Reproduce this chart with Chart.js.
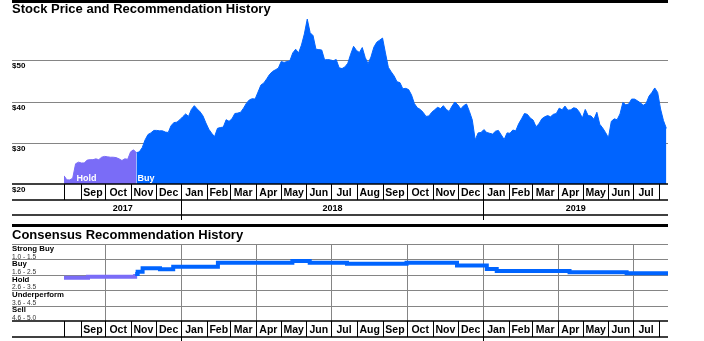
<!DOCTYPE html>
<html>
<head>
<meta charset="utf-8">
<script src="https://cdn.jsdelivr.net/npm/chart.js@4.4.0/dist/chart.umd.min.js"></script>
<style>
  html, body { margin: 0; padding: 0; background: #fff; }
  #wrap { position: relative; width: 704px; height: 341px; overflow: hidden; }
  .box { position: absolute; left: 0; width: 704px; }
  #priceBox { top: 0; height: 220px; }
  #recBox { top: 220px; height: 121px; }
</style>
</head>
<body>
<div id="wrap">
  <div class="box" id="priceBox"><canvas id="priceChart"></canvas></div>
  <div class="box" id="recBox"><canvas id="recChart"></canvas></div>
</div>
<script>
// closing price, sampled twice a week from startDate
const startDate = '2017-08-12';
const endDate = '2019-08-12';
const stepDays = 3.5;
const closePrices = [
  22.0, 21.0, 21.0, 21.4, 24.9, 25.3, 25.1, 25.1, 25.8, 25.9,
  25.9, 26.1, 25.9, 26.5, 26.7, 26.6, 26.5, 26.5, 26.4, 26.1,
  25.7, 26.1, 26.0, 27.8, 28.3, 27.6, 27.8, 28.8, 30.7, 32.0,
  32.4, 33.0, 33.0, 32.9, 32.9, 32.6, 32.5, 34.2, 34.9, 35.0,
  35.6, 36.3, 37.0, 36.4, 38.1, 39.0, 38.2, 37.5, 36.5, 34.8,
  33.3, 32.3, 31.5, 33.5, 33.7, 33.8, 35.6, 35.2, 35.8, 37.1,
  37.2, 37.4, 38.4, 39.6, 40.4, 40.7, 40.6, 42.3, 44.0, 44.5,
  45.5, 46.6, 47.3, 47.7, 48.1, 49.7, 49.5, 49.7, 49.9, 51.8,
  52.7, 51.8, 53.7, 56.4, 60.0, 56.7, 56.0, 52.7, 52.6, 52.5,
  50.1, 50.2, 50.1, 49.9, 50.2, 48.2, 48.0, 48.4, 49.3, 51.5,
  53.4, 52.4, 51.9, 53.1, 50.7, 49.2, 50.8, 53.2, 54.4, 54.9,
  55.4, 51.8, 48.3, 47.2, 46.2, 44.8, 44.6, 43.1, 43.2, 42.9,
  41.6, 39.5, 38.5, 38.1, 37.4, 36.4, 36.5, 37.4, 38.0, 38.6,
  38.3, 39.0, 38.1, 37.6, 38.9, 39.9, 39.2, 38.2, 39.0, 39.4,
  37.6, 35.5, 30.7, 32.4, 32.5, 33.2, 32.5, 32.3, 32.1, 32.8,
  33.0, 31.9, 30.8, 32.4, 32.3, 33.1, 32.9, 34.6, 35.8, 37.1,
  36.9, 36.0, 35.5, 33.9, 34.6, 35.8, 36.3, 36.6, 36.3, 36.9,
  37.1, 38.4, 38.0, 38.9, 37.9, 38.0, 38.5, 38.3, 37.4, 36.0,
  38.1, 36.6, 36.5, 35.7, 37.4, 34.5, 33.6, 32.5, 31.2, 35.2,
  35.8, 35.6, 37.0, 39.8, 39.2, 39.4, 40.6, 40.6, 40.2, 39.7,
  39.1, 39.5, 41.3, 42.2, 43.3, 42.2, 38.2, 35.4, 33.5
];
const priceTicks = [20, 30, 40, 50];

// rating in force from each date
const ratingNames = ['Hold', 'Buy'];
const ratingStarts = ['2017-08-12', '2017-11-06'];

// consensus score (1 = strong buy, 5 = sell) from each date
const consensusDates = [
  '2017-08-12', '2017-09-10', '2017-11-06', '2017-11-09', '2017-11-15',
  '2017-12-06', '2017-12-22', '2018-02-14', '2018-05-15', '2018-06-05',
  '2018-07-20', '2018-09-30', '2018-11-30', '2019-01-05', '2019-01-17',
  '2019-04-15', '2019-06-23', '2019-08-12'
];
const consensusScores = [
  2.69, 2.63, 2.45, 2.30, 2.08,
  2.14, 1.97, 1.71, 1.60, 1.71,
  1.78, 1.71, 1.90, 2.12, 2.25,
  2.34, 2.40, 2.40
];

const bandNames = ['Strong Buy', 'Buy', 'Hold', 'Underperform', 'Sell'];
const bandRanges = ['1.0 - 1.5', '1.6 - 2.5', '2.6 - 3.5', '3.6 - 4.5', '4.6 - 5.0'];
const monthNames = ['Jan', 'Feb', 'Mar', 'Apr', 'May', 'Jun', 'Jul', 'Aug', 'Sep', 'Oct', 'Nov', 'Dec'];

const FONT = '"Liberation Sans", Arial, Helvetica, sans-serif';
const GUTTER = 12;
const GRID = '#858585';
const ratingColors = { Hold: '#7a6cf7', Buy: '#0064ff' };

function dayOf(s) {
    return (Date.parse(s) - Date.parse(startDate)) / 86400000;
}
const lastDay = dayOf(endDate);

// month starts between startDate and endDate
function monthStarts() {
    const out = [];
    const s = new Date(startDate);
    let y = s.getUTCFullYear(), m = s.getUTCMonth() + 1;
    while (true) {
        if (m > 11) { m = 0; y++; }
        const day = (Date.UTC(y, m, 1) - Date.parse(startDate)) / 86400000;
        if (day > lastDay) break;
        out.push({ day: day, year: y, month: m });
        m++;
    }
    return out;
}
const months = monthStarts();

function drawHeader(chart, barTop, baseline, text) {
    const ctx = chart.ctx;
    ctx.save();
    ctx.fillStyle = '#000';
    ctx.fillRect(GUTTER, barTop, chart.chartArea.right - GUTTER, 3);
    ctx.font = 'bold 13px ' + FONT;
    ctx.textAlign = 'left';
    ctx.textBaseline = 'alphabetic';
    ctx.fillText(text, GUTTER, baseline);
    ctx.restore();
}

function hLine(ctx, x0, x1, y) {
    ctx.beginPath();
    ctx.moveTo(x0, y);
    ctx.lineTo(x1, y);
    ctx.stroke();
}
function vLine(ctx, x, y0, y1) {
    ctx.beginPath();
    ctx.moveTo(x, y0);
    ctx.lineTo(x, y1);
    ctx.stroke();
}

// month / year rows under a chart
function drawTimeTable(chart) {
    const { ctx, chartArea: area, scales: { x } } = chart;
    const top = area.bottom;
    const mid = top + 16;
    const bottom = top + 31;
    const px = d => Math.round(x.getPixelForValue(d)) + 0.5;

    ctx.save();
    ctx.strokeStyle = '#000';
    ctx.lineWidth = 1.5;
    hLine(ctx, GUTTER, area.right, top);
    hLine(ctx, GUTTER, area.right, mid);
    hLine(ctx, GUTTER, area.right, bottom);

    ctx.lineWidth = 1;
    const edges = [0].concat(months.map(m => m.day));
    edges.forEach(d => vLine(ctx, px(d), top, mid));

    ctx.fillStyle = '#000';
    ctx.textAlign = 'center';
    ctx.textBaseline = 'alphabetic';
    ctx.font = 'bold 10.5px ' + FONT;
    for (let i = 0; i < months.length - 1; i++) {
        const cx = (x.getPixelForValue(months[i].day) + x.getPixelForValue(months[i + 1].day)) / 2;
        ctx.fillText(monthNames[months[i].month], cx, top + 12);
    }

    const jans = months.filter(m => m.month === 0);
    jans.forEach(m => vLine(ctx, px(m.day), mid, bottom + 8));
    const yearEdges = [0].concat(jans.map(m => m.day), [lastDay]);
    const firstYear = new Date(startDate).getUTCFullYear();
    ctx.font = 'bold 9px ' + FONT;
    for (let i = 0; i < yearEdges.length - 1; i++) {
        const cx = (x.getPixelForValue(yearEdges[i]) + x.getPixelForValue(yearEdges[i + 1])) / 2;
        ctx.fillText(String(firstYear + i), cx, mid + 11);
    }
    ctx.restore();
}

const buyDay = dayOf(ratingStarts[1]);
const pricePoints = closePrices.map((v, i) => ({ x: i * stepDays, y: v }));

// one filled area per rating period, sharing the boundary sample
const ratingSets = ratingNames.map((name, r) => {
    const from = dayOf(ratingStarts[r]);
    const to = r + 1 < ratingStarts.length ? dayOf(ratingStarts[r + 1]) : Infinity;
    const pts = [];
    pricePoints.forEach((p, i) => {
        const prev = pricePoints[i - 1];
        if ((p.x >= from && p.x < to) || (p.x >= to && prev && prev.x < to)) pts.push(p);
    });
    if (r > 0 && pts.length && pts[0].x > from) {
        // nothing to add, the period opens at its first sample
    }
    return {
        label: name,
        data: pts,
        backgroundColor: ratingColors[name],
        borderColor: ratingColors[name],
        borderWidth: 1,
        fill: 'start',
        pointRadius: 0,
        tension: 0
    };
});

const pricePlugin = {
    id: 'priceDecor',
    beforeDatasetsDraw(chart) {
        const { ctx, chartArea: area, scales: { y } } = chart;
        drawHeader(chart, 0, 13, 'Stock Price and Recommendation History');
        ctx.save();
        ctx.strokeStyle = GRID;
        ctx.lineWidth = 1;
        ctx.fillStyle = '#000';
        ctx.font = 'bold 8px ' + FONT;
        ctx.textAlign = 'left';
        ctx.textBaseline = 'alphabetic';
        priceTicks.forEach(v => {
            const py = Math.round(y.getPixelForValue(v)) + 0.5;
            if (v > y.min) hLine(ctx, GUTTER, area.right, py);
            ctx.fillText('$' + v, GUTTER, py + 7);
        });
        ctx.restore();
    },
    afterDatasetsDraw(chart) {
        const { ctx, chartArea: area, scales: { x, y } } = chart;
        ctx.save();
        ctx.fillStyle = '#fff';
        ctx.font = 'bold 9px ' + FONT;
        ctx.textAlign = 'left';
        ctx.textBaseline = 'alphabetic';
        chart.data.datasets.forEach(ds => {
            const spot = ds.data.find(p => area.bottom - y.getPixelForValue(p.y) >= 14);
            if (spot) ctx.fillText(ds.label, x.getPixelForValue(spot.x) + 1, area.bottom - 3.5);
        });
        ctx.restore();
        drawTimeTable(chart);
    }
};

new Chart(document.getElementById('priceChart'), {
    type: 'line',
    data: { datasets: ratingSets },
    options: {
        responsive: true,
        maintainAspectRatio: false,
        animation: false,
        layout: { padding: { left: 64, right: 36, top: 15, bottom: 36 } },
        plugins: { legend: { display: false }, tooltip: { enabled: false } },
        scales: {
            x: { type: 'linear', min: 0, max: lastDay, display: false },
            y: { min: 20, max: 61, display: false }
        }
    },
    plugins: [pricePlugin]
});

const recPlugin = {
    id: 'recDecor',
    beforeDatasetsDraw(chart) {
        const { ctx, chartArea: area, scales: { x, y } } = chart;
        drawHeader(chart, 4, 19, 'Consensus Recommendation History');
        ctx.save();
        ctx.strokeStyle = GRID;
        ctx.lineWidth = 1;
        bandNames.forEach((name, i) => {
            const py = Math.round(y.getPixelForValue(i + 0.5)) + 0.5;
            hLine(ctx, GUTTER, area.right, py);
        });
        months.filter(m => m.month % 3 === 0).forEach(m => {
            const px = Math.round(x.getPixelForValue(m.day)) + 0.5;
            vLine(ctx, px, area.top, area.bottom);
        });

        ctx.textAlign = 'left';
        ctx.textBaseline = 'alphabetic';
        bandNames.forEach((name, i) => {
            const rowTop = y.getPixelForValue(i + 0.5);
            ctx.fillStyle = '#000';
            ctx.font = 'bold 7.8px ' + FONT;
            ctx.fillText(name, GUTTER, rowTop + 6.8);
            ctx.fillStyle = '#333';
            ctx.font = '6.6px ' + FONT;
            ctx.fillText(bandRanges[i], GUTTER, rowTop + 14.6);
        });
        ctx.restore();
    },
    afterDatasetsDraw(chart) {
        drawTimeTable(chart);
    }
};

new Chart(document.getElementById('recChart'), {
    type: 'line',
    data: {
        datasets: [{
            data: consensusDates.map((d, i) => ({ x: dayOf(d), y: consensusScores[i] })),
            borderColor: ratingColors.Buy,
            borderWidth: 4,
            borderCapStyle: 'butt',
            stepped: true,
            pointRadius: 0,
            fill: false,
            segment: {
                borderColor: c => c.p0.parsed.x < buyDay ? ratingColors.Hold : ratingColors.Buy
            }
        }]
    },
    options: {
        responsive: true,
        maintainAspectRatio: false,
        animation: false,
        layout: { padding: { left: 64, right: 36, top: 24, bottom: 20 } },
        plugins: { legend: { display: false }, tooltip: { enabled: false } },
        scales: {
            x: { type: 'linear', min: 0, max: lastDay, display: false },
            y: { min: 0.5, max: 5.5, reverse: true, display: false }
        }
    },
    plugins: [recPlugin]
});
</script>
</body>
</html>
